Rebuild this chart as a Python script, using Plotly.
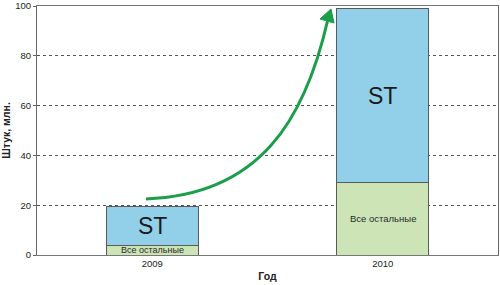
import plotly.graph_objects as go

years = ["2009", "2010"]
others = [4, 29]
st = [15.3, 70]
label_others = "Все остальные"
label_st = "ST"
y_ticks = [0, 20, 40, 60, 80, 100]

W, H = 500, 285
ML, MR, MT, MB = 37, 2, 6, 30
PW, PH = W - ML - MR, H - MT - MB

def px(x, y):
    return (x - ML) / PW, (H - MB - y) / PH

fig = go.Figure()
fig.add_trace(go.Bar(x=years, y=others, marker=dict(color="#cce4b6", line=dict(color="#5a5a5a", width=1)),
                     hoverinfo="skip"))
fig.add_trace(go.Bar(x=years, y=st, marker=dict(color="#92d0ea", line=dict(color="#5a5a5a", width=1)),
                     hoverinfo="skip"))

for i, yr in enumerate(years):
    fig.add_annotation(x=i, y=others[i] / 2, text=label_others, showarrow=False,
                       font=dict(size=9 if i == 0 else 9.5, color="#2a2a2a", family="Liberation Sans, Arial"))
    fig.add_annotation(x=i, y=others[i] + st[i] / 2, text=label_st, showarrow=False,
                       font=dict(size=23, color="#1a1a1a", family="Liberation Sans, Arial"))

# decorative growth arrow
pts = [(146, 199), (260, 195), (305, 120), (328, 19)]
pp = [px(*p) for p in pts]
path = "M {:.4f},{:.4f} C {:.4f},{:.4f} {:.4f},{:.4f} {:.4f},{:.4f}".format(
    pp[0][0], pp[0][1], pp[1][0], pp[1][1], pp[2][0], pp[2][1], pp[3][0], pp[3][1])
fig.add_shape(type="path", path=path, xref="paper", yref="paper",
              line=dict(color="#1a9e4a", width=3))
tri = [px(331, 9), px(320, 19), px(334, 23)]
tpath = "M {:.4f},{:.4f} L {:.4f},{:.4f} L {:.4f},{:.4f} Z".format(*tri[0], *tri[1], *tri[2])
fig.add_shape(type="path", path=tpath, xref="paper", yref="paper",
              line=dict(color="#1a9e4a", width=1), fillcolor="#1a9e4a")

fig.update_layout(
    width=W, height=H, margin=dict(l=ML, r=MR, t=MT, b=MB),
    barmode="stack", bargap=0.6, showlegend=False,
    plot_bgcolor="white", paper_bgcolor="white",
    font=dict(family="Liberation Sans, Arial", size=9.5, color="#222"),
    xaxis=dict(type="category", range=[-0.5, 1.5], automargin=False, showline=True, linecolor="#777",
               linewidth=1, mirror=True, ticks="", tickfont=dict(size=9.5),
               title=dict(text="<b>Год</b>", font=dict(size=10.5), standoff=4)),
    yaxis=dict(range=[0, 100], tickvals=y_ticks, automargin=False, showline=True, linecolor="#666", linewidth=1,
               mirror=True, ticks="outside", ticklen=3, tickcolor="#666", ticklabeloverflow="allow",
               showgrid=True, gridcolor="#555", griddash="dot", gridwidth=1,
               zeroline=False, tickfont=dict(size=9.5),
               title=dict(text="<b>Штук, млн.</b>", font=dict(size=10.5), standoff=6)),
)
fig.write_html("out.html")
